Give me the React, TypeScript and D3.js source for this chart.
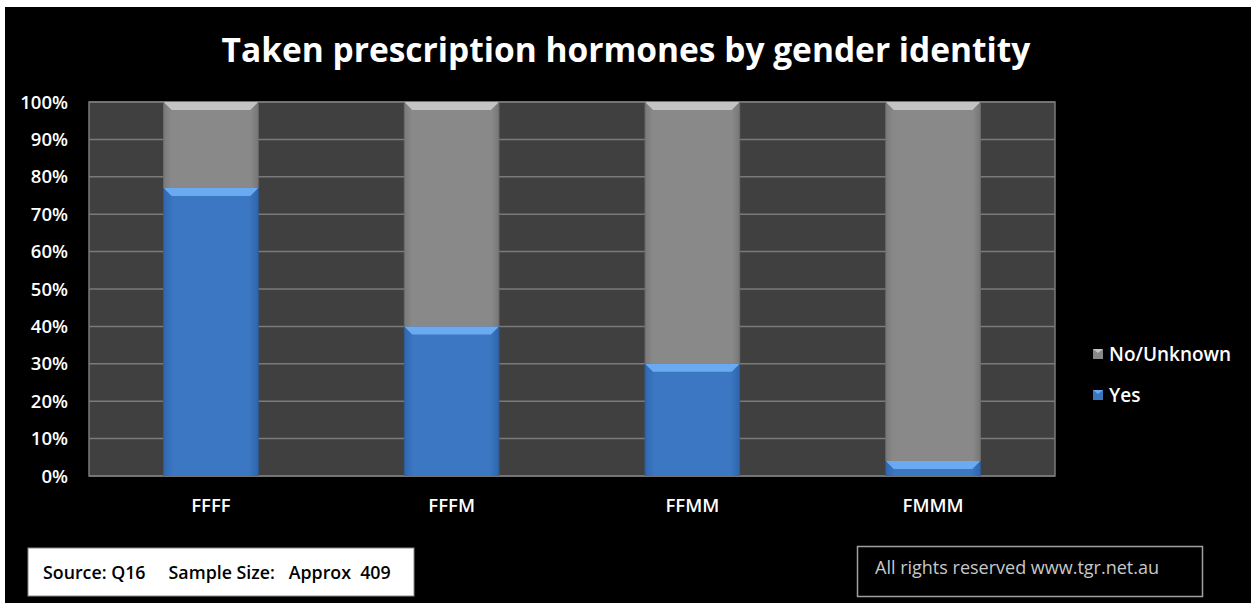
import React from "react";
import * as d3 from "d3";

const categories = ["FFFF", "FFFM", "FFMM", "FMMM"];
const yesValues = [0.77, 0.40, 0.30, 0.04];
const noValues = [0.23, 0.60, 0.70, 0.96];
const yTicks = [0, 0.1, 0.2, 0.3, 0.4, 0.5, 0.6, 0.7, 0.8, 0.9, 1.0];
const seriesNames = ["No/Unknown", "Yes"];
const titleText = "Taken prescription hormones by gender identity";
const sourceText = "Source: Q16     Sample Size:   Approx  409";
const rightsText = "All rights reserved www.tgr.net.au";

const W = 1251;
const H = 603;
const plot = { left: 89, right: 1055, top: 102, bottom: 476 };
const FONT = "'Open Sans', Lato, sans-serif";

export default function App() {
  const x = d3
    .scaleBand<string>()
    .domain(categories)
    .range([plot.left, plot.right])
    .paddingInner(0.607)
    .paddingOuter(0.31);
  const y = d3.scaleLinear().domain([0, 1]).range([plot.bottom, plot.top]);

  const stacked = categories.map((c, i) => ({
    cat: c,
    segs: [
      { name: "Yes", y0: 0, y1: yesValues[i], top: "#6aaaf0", side: "#2d5d9a" },
      { name: "No/Unknown", y0: yesValues[i], y1: yesValues[i] + noValues[i], top: "#c4c4c4", side: "#6e6e6e" },
    ],
  }));

  const bw = x.bandwidth();
  const bev = 8;

  return (
    <div style={{ position: "fixed", left: 0, top: 0 }}>
      <svg width={W} height={H} style={{ display: "block" }}>
        <defs>
          <linearGradient id="yesGrad" x1="0" x2="1" y1="0" y2="0">
            <stop offset="0" stopColor="#3068b0" />
            <stop offset="0.1" stopColor="#3b77c2" />
            <stop offset="0.9" stopColor="#3b77c2" />
            <stop offset="1" stopColor="#2f66ac" />
          </linearGradient>
          <linearGradient id="noGrad" x1="0" x2="1" y1="0" y2="0">
            <stop offset="0" stopColor="#7a7a7a" />
            <stop offset="0.08" stopColor="#898989" />
            <stop offset="0.92" stopColor="#898989" />
            <stop offset="1" stopColor="#777777" />
          </linearGradient>
        </defs>
        <rect x={0} y={0} width={W} height={H} fill="#ffffff" />
        <rect x={5} y={7} width={W - 5} height={H - 7} fill="#000000" />
        <text
          x={626}
          y={62}
          textAnchor="middle"
          fill="#ffffff"
          fontFamily={FONT}
          fontWeight="bold"
          fontSize={33.5}
        >
          {titleText}
        </text>

        {/* plot area */}
        <rect
          x={plot.left}
          y={plot.top}
          width={plot.right - plot.left}
          height={plot.bottom - plot.top}
          fill="#404040"
          stroke="#7a7a7a"
          strokeWidth={1.5}
        />
        {yTicks.map((t) => (
          <line
            key={"g" + t}
            x1={plot.left}
            x2={plot.right}
            y1={y(t)}
            y2={y(t)}
            stroke="#7a7a7a"
            strokeWidth={1.5}
          />
        ))}
        {yTicks.map((t) => (
          <text
            key={"t" + t}
            x={68}
            y={y(t) + 6.5}
            textAnchor="end"
            fill="#ffffff"
            fontFamily={FONT}
            fontWeight={600}
            fontSize={18.5}
          >
            {d3.format(".0%")(t)}
          </text>
        ))}

        {stacked.map((s) => {
          const x0 = x(s.cat)!;
          return (
            <g key={s.cat}>
              {s.segs.map((g) => {
                const yt = y(g.y1);
                const yb = y(g.y0);
                const h = yb - yt;
                const bh = Math.min(bev, h);
                return (
                  <g key={g.name}>
                    <rect
                      x={x0}
                      y={yt}
                      width={bw}
                      height={h}
                      fill={g.name === "Yes" ? "url(#yesGrad)" : "url(#noGrad)"}
                    />
                    <path
                      d={`M${x0},${yt} L${x0 + bw},${yt} L${x0 + bw - bh},${yt + bh} L${x0 + bh},${yt + bh} Z`}
                      fill={g.top}
                    />
                    <line x1={x0} x2={x0} y1={yt} y2={yb} stroke={g.side} strokeWidth={1} />
                    <line x1={x0 + bw} x2={x0 + bw} y1={yt} y2={yb} stroke={g.side} strokeWidth={1} />
                  </g>
                );
              })}
            </g>
          );
        })}

        {categories.map((c) => (
          <text
            key={"x" + c}
            x={x(c)! + bw / 2}
            y={512}
            textAnchor="middle"
            fill="#ffffff"
            fontFamily={FONT}
            fontWeight={600}
            fontSize={18.5}
          >
            {c}
          </text>
        ))}

        {/* legend */}
        {seriesNames.map((n, i) => {
          const ly = 360 + i * 41;
          const col = n === "Yes" ? "#3a75c0" : "#888888";
          const topc = n === "Yes" ? "#6aaaf0" : "#c4c4c4";
          return (
            <g key={n}>
              <rect x={1093} y={ly - 11} width={10} height={10} fill={col} />
              <path d={`M${1093},${ly - 11} L${1103},${ly - 11} L${1098},${ly - 7} Z`} fill={topc} />
              <text
                x={1109}
                y={ly + 1}
                fill="#ffffff"
                fontFamily={FONT}
                fontWeight={600}
                fontSize={19}
              >
                {n}
              </text>
            </g>
          );
        })}

        {/* source box */}
        <rect x={28} y={548} width={386} height={48} fill="#ffffff" stroke="#888" strokeWidth={1} />
        <text
          x={43}
          y={579}
          fill="#000000"
          fontFamily={FONT}
          fontWeight={600}
          fontSize={17.8}
          style={{ whiteSpace: "pre" }}
        >
          {sourceText}
        </text>

        {/* rights box */}
        <rect x={857.5} y={546.5} width={345} height={50} fill="none" stroke="#a0a0a0" strokeWidth={1.5} />
        <text x={875} y={574} fill="#c8c8c8" fontFamily={FONT} fontSize={18}>
          {rightsText}
        </text>
      </svg>
    </div>
  );
}
